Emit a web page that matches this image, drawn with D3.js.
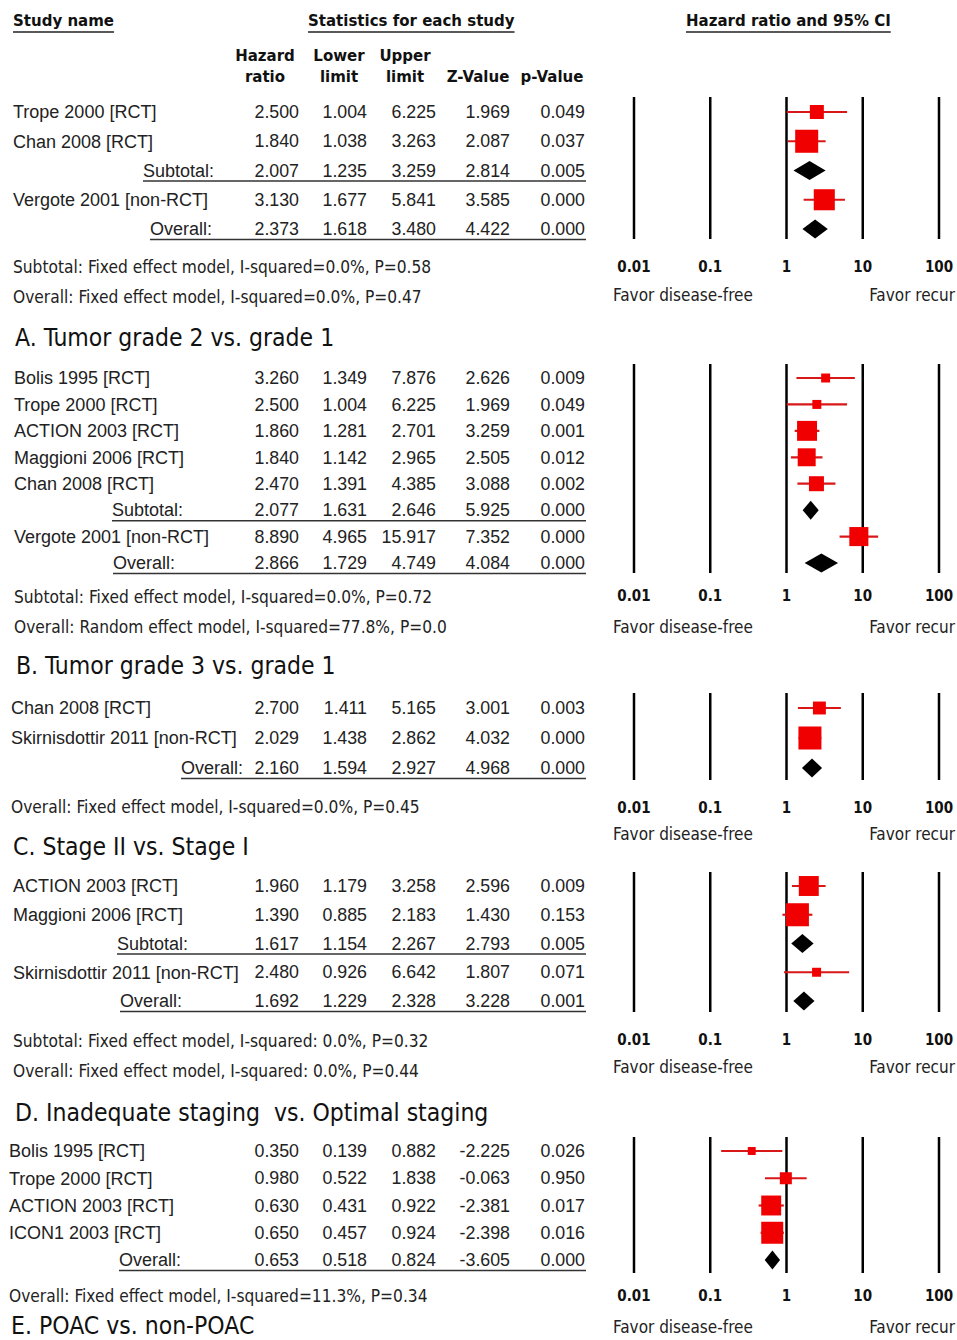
<!DOCTYPE html>
<html>
<head>
<meta charset="utf-8">
<script src="https://cdn.jsdelivr.net/npm/d3@7"></script>
<style>
  body { margin: 0; background: #fff; }
  svg { display: block; }
  .pre { white-space: pre; }
</style>
</head>
<body>
<div id="chart"></div>
<script>
// ---- data ----
var captions = [
  "A. Tumor grade 2 vs. grade 1",
  "B. Tumor grade 3 vs. grade 1",
  "C. Stage II vs. Stage I",
  "D. Inadequate staging  vs. Optimal staging",
  "E. POAC vs. non-POAC"
];

var studyNames = [
  ["Trope 2000 [RCT]", "Chan 2008 [RCT]", "Subtotal:", "Vergote 2001 [non-RCT]", "Overall:"],
  ["Bolis 1995 [RCT]", "Trope 2000 [RCT]", "ACTION 2003 [RCT]", "Maggioni 2006 [RCT]", "Chan 2008 [RCT]", "Subtotal:", "Vergote 2001 [non-RCT]", "Overall:"],
  ["Chan 2008 [RCT]", "Skirnisdottir 2011 [non-RCT]", "Overall:"],
  ["ACTION 2003 [RCT]", "Maggioni 2006 [RCT]", "Subtotal:", "Skirnisdottir 2011 [non-RCT]", "Overall:"],
  ["Bolis 1995 [RCT]", "Trope 2000 [RCT]", "ACTION 2003 [RCT]", "ICON1 2003 [RCT]", "Overall:"]
];

var hazardRatio = [
  [2.500, 1.840, 2.007, 3.130, 2.373],
  [3.260, 2.500, 1.860, 1.840, 2.470, 2.077, 8.890, 2.866],
  [2.700, 2.029, 2.160],
  [1.960, 1.390, 1.617, 2.480, 1.692],
  [0.350, 0.980, 0.630, 0.650, 0.653]
];

var lowerLimit = [
  [1.004, 1.038, 1.235, 1.677, 1.618],
  [1.349, 1.004, 1.281, 1.142, 1.391, 1.631, 4.965, 1.729],
  [1.411, 1.438, 1.594],
  [1.179, 0.885, 1.154, 0.926, 1.229],
  [0.139, 0.522, 0.431, 0.457, 0.518]
];

var upperLimit = [
  [6.225, 3.263, 3.259, 5.841, 3.480],
  [7.876, 6.225, 2.701, 2.965, 4.385, 2.646, 15.917, 4.749],
  [5.165, 2.862, 2.927],
  [3.258, 2.183, 2.267, 6.642, 2.328],
  [0.882, 1.838, 0.922, 0.924, 0.824]
];

var zValue = [
  [1.969, 2.087, 2.814, 3.585, 4.422],
  [2.626, 1.969, 3.259, 2.505, 3.088, 5.925, 7.352, 4.084],
  [3.001, 4.032, 4.968],
  [2.596, 1.430, 2.793, 1.807, 3.228],
  [-2.225, -0.063, -2.381, -2.398, -3.605]
];

var pValue = [
  [0.049, 0.037, 0.005, 0.000, 0.000],
  [0.009, 0.049, 0.001, 0.012, 0.002, 0.000, 0.000, 0.000],
  [0.003, 0.000, 0.000],
  [0.009, 0.153, 0.005, 0.071, 0.001],
  [0.026, 0.950, 0.017, 0.016, 0.000]
];

// relative study weight, judged from the size of each square (0 for pooled rows)
var studyWeight = [
  [34, 92, 0, 77, 0],
  [14, 14, 69, 56, 39, 0, 63, 0],
  [29, 92, 0],
  [69, 92, 0, 14, 0],
  [11, 25, 69, 84, 0]
];

var footnotes = [
  ["Subtotal: Fixed effect model, I-squared=0.0%, P=0.58", "Overall: Fixed effect model, I-squared=0.0%, P=0.47"],
  ["Subtotal: Fixed effect model, I-squared=0.0%, P=0.72", "Overall: Random effect model, I-squared=77.8%, P=0.0"],
  ["Overall: Fixed effect model, I-squared=0.0%, P=0.45"],
  ["Subtotal: Fixed effect model, I-squared: 0.0%, P=0.32", "Overall: Fixed effect model, I-squared: 0.0%, P=0.44"],
  ["Overall: Fixed effect model, I-squared=11.3%, P=0.34"]
];

var tickValues = [0.01, 0.1, 1, 10, 100];
var tickLabels = ["0.01", "0.1", "1", "10", "100"];
var favorLabels = ["Favor disease-free", "Favor recur"];
var headerTop = ["Hazard", "Lower", "Upper", "", ""];
var headerBottom = ["ratio", "limit", "limit", "Z-Value", "p-Value"];

// ---- layout ----
var width = 957, height = 1340;
var colRight = [299, 367, 436, 510, 585];
var colCenter = [265, 339, 405, 478, 552];
var tableRight = 586;
var panels = [
  { rows: [112, 229], nameX: 13, sumX: [143, 150], lines: [97, 239], tickY: 267, favorY: 295, notesY: [267, 297], captionY: 337 },
  { rows: [378, 563], nameX: 14, sumX: [112, 113], lines: [364, 573], tickY: 596, favorY: 627, notesY: [597, 627], captionY: 665 },
  { rows: [708, 768], nameX: 11, sumX: [181], lines: [693, 780], tickY: 808, favorY: 834, notesY: [807], captionY: 846 },
  { rows: [886, 1001], nameX: 13, sumX: [117, 120], lines: [872, 1012], tickY: 1040, favorY: 1067, notesY: [1041, 1071], captionY: 1112 },
  { rows: [1151, 1260], nameX: 9, sumX: [119], lines: [1137, 1273], tickY: 1296, favorY: 1327, notesY: [1296], captionY: 1325 }
];

var dataFont = "'Liberation Sans', Arial, sans-serif";
var labelFont = "'DejaVu Sans Condensed', 'DejaVu Sans', sans-serif";
var headFont = "'DejaVu Sans', Verdana, sans-serif";

var x = d3.scaleLog().domain([0.01, 100]).range([634, 939]);
var boxSize = d3.scaleSqrt().domain([0, 100]).range([0, 24]);
var fmt = d3.formatLocale({ decimal: ".", thousands: ",", grouping: [3], currency: ["", ""], minus: "-" }).format(".3f");

var svg = d3.select("#chart")
  .append("svg")
  .attr("width", width)
  .attr("height", height);

// underlined bold header
function underlined(txt, x0, y) {
  var t = svg.append("text")
    .attr("x", x0).attr("y", y).attr("dy", "0.35em")
    .attr("font-family", headFont).attr("font-weight", "bold")
    .attr("font-size", 15).attr("fill", "#111")
    .text(txt);
  var w = t.node().getComputedTextLength();
  svg.append("line")
    .attr("x1", x0).attr("x2", x0 + w)
    .attr("y1", y + 11).attr("y2", y + 11)
    .attr("stroke", "#222").attr("stroke-width", 1.5);
}
underlined("Study name", 13, 21);
underlined("Statistics for each study", 308, 21);
underlined("Hazard ratio and 95% CI", 686, 21);

var head = svg.append("g")
  .attr("font-family", headFont).attr("font-weight", "bold")
  .attr("font-size", 15).attr("fill", "#111")
  .attr("text-anchor", "middle");
head.selectAll(".h1").data(headerTop).enter().append("text")
  .attr("x", function (d, i) { return colCenter[i]; })
  .attr("y", 56).attr("dy", "0.35em")
  .text(function (d) { return d; });
head.selectAll(".h2").data(headerBottom).enter().append("text")
  .attr("x", function (d, i) { return colCenter[i]; })
  .attr("y", 77).attr("dy", "0.35em")
  .text(function (d) { return d; });

panels.forEach(function (p, k) {
  var rows = studyNames[k].map(function (name, i) {
    return {
      name: name,
      pooled: name.slice(-1) == ":",
      hr: hazardRatio[k][i], lo: lowerLimit[k][i], hi: upperLimit[k][i],
      z: zValue[k][i], p: pValue[k][i], w: studyWeight[k][i], i: i
    };
  });
  var y = d3.scalePoint().domain(d3.range(rows.length)).range(p.rows);
  var g = svg.append("g");

  // table text
  var sumIdx = 0;
  rows.forEach(function (r) {
    var ry = y(r.i);
    var lx = p.nameX;
    if (r.pooled) { lx = p.sumX[sumIdx++]; }
    g.append("text")
      .attr("x", lx).attr("y", ry).attr("dy", "0.35em")
      .attr("font-family", dataFont).attr("font-size", 18).attr("fill", "#222")
      .text(r.name);
    [r.hr, r.lo, r.hi, r.z, r.p].forEach(function (v, c) {
      g.append("text")
        .attr("x", colRight[c]).attr("y", ry).attr("dy", "0.35em")
        .attr("text-anchor", "end")
        .attr("font-family", dataFont).attr("font-size", 17.8).attr("fill", "#222")
        .text(fmt(v));
    });
    if (r.pooled) {
      g.append("line")
        .attr("x1", lx).attr("x2", tableRight)
        .attr("y1", ry + 10.5).attr("y2", ry + 10.5)
        .attr("stroke", "#333").attr("stroke-width", 1.5);
    }
  });

  // footnotes and caption
  footnotes[k].forEach(function (n, j) {
    g.append("text")
      .attr("x", p.nameX).attr("y", p.notesY[j]).attr("dy", "0.35em")
      .attr("font-family", labelFont).attr("font-size", 17.2).attr("fill", "#222")
      .text(n);
  });
  g.append("text")
    .attr("class", "pre")
    .attr("x", p.nameX + 2).attr("y", p.captionY).attr("dy", "0.35em")
    .attr("font-family", labelFont).attr("font-size", 24.5).attr("fill", "#111")
    .text(captions[k]);

  // reference lines
  g.selectAll(".ref").data(tickValues).enter().append("line")
    .attr("x1", function (d) { return x(d); }).attr("x2", function (d) { return x(d); })
    .attr("y1", p.lines[0]).attr("y2", p.lines[1])
    .attr("stroke", "#000").attr("stroke-width", 2.5);
  g.selectAll(".tick").data(tickValues).enter().append("text")
    .attr("x", function (d) { return x(d); }).attr("y", p.tickY).attr("dy", "0.35em")
    .attr("text-anchor", "middle")
    .attr("font-family", labelFont).attr("font-weight", "bold").attr("font-size", 15)
    .attr("fill", "#111")
    .text(function (d, i) { return tickLabels[i]; });
  g.append("text")
    .attr("x", x(0.01) - 21).attr("y", p.favorY).attr("dy", "0.35em")
    .attr("font-family", labelFont).attr("font-size", 17).attr("fill", "#222")
    .text(favorLabels[0]);
  g.append("text")
    .attr("x", x(100) + 16).attr("y", p.favorY).attr("dy", "0.35em")
    .attr("text-anchor", "end")
    .attr("font-family", labelFont).attr("font-size", 17).attr("fill", "#222")
    .text(favorLabels[1]);

  // study CIs and squares
  var studies = rows.filter(function (r) { return !r.pooled; });
  g.selectAll(".ci").data(studies).enter().append("line")
    .attr("x1", function (d) { return x(d.lo); })
    .attr("x2", function (d) { return x(d.hi); })
    .attr("y1", function (d) { return y(d.i); })
    .attr("y2", function (d) { return y(d.i); })
    .attr("stroke", "#d81818").attr("stroke-width", 2.2);
  g.selectAll(".box").data(studies).enter().append("rect")
    .attr("x", function (d) { return x(d.hr) - boxSize(d.w) / 2; })
    .attr("y", function (d) { return y(d.i) - boxSize(d.w) / 2; })
    .attr("width", function (d) { return boxSize(d.w); })
    .attr("height", function (d) { return boxSize(d.w); })
    .attr("fill", "#f00000");

  // pooled diamonds
  var pooled = rows.filter(function (r) { return r.pooled; });
  g.selectAll(".dia").data(pooled).enter().append("path")
    .attr("d", function (d) {
      var cy = y(d.i);
      return "M" + x(d.lo) + "," + cy +
        "L" + x(d.hr) + "," + (cy - 9.5) +
        "L" + x(d.hi) + "," + cy +
        "L" + x(d.hr) + "," + (cy + 9.5) + "Z";
    })
    .attr("fill", "#000");
});
</script>
</body>
</html>
